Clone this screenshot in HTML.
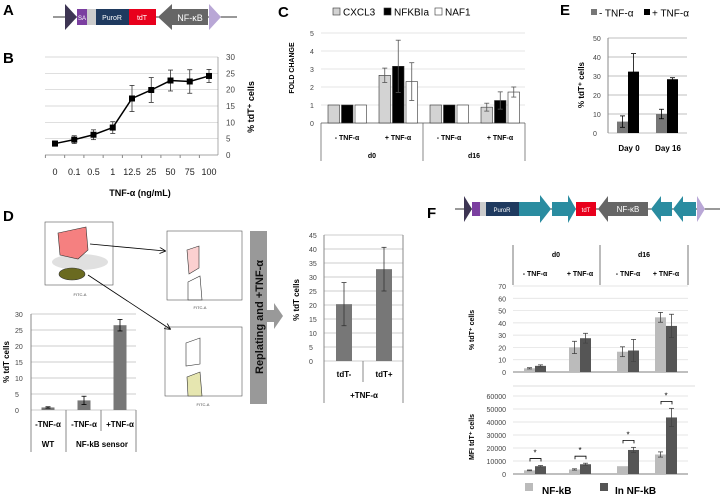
<!DOCTYPE html>
<html><head><meta charset="utf-8"><style>
html,body{margin:0;padding:0;background:#fff}
svg{display:block;font-family:"Liberation Sans",sans-serif}
</style></head><body>
<svg id="fig" width="722" height="500" viewBox="0 0 722 500">
<defs><marker id="ar" markerWidth="8" markerHeight="8" refX="7" refY="4" orient="auto"><path d="M0,0 L8,4 L0,8" fill="none" stroke="#000" stroke-width="1"/></marker></defs>
<g font-weight="bold" font-size="15">
<text x="3" y="15">A</text><text x="3" y="63">B</text><text x="278" y="17">C</text><text x="560" y="15">E</text><text x="3" y="221">D</text><text x="427" y="218">F</text>
</g>
<g font-size="7" fill="#fff">
<line x1="53" y1="17" x2="237" y2="17" stroke="#333"/>
<polygon points="65,4 77,17 65,30" fill="#3d3553"/>
<rect x="77" y="9" width="10" height="16" fill="#7b3fa0"/><text x="82" y="20" text-anchor="middle" font-size="6">SA</text>
<rect x="87" y="9" width="9" height="16" fill="#ccc"/>
<rect x="96" y="9" width="33" height="16" fill="#1f3a5f"/><text x="112" y="20" text-anchor="middle">PuroR</text>
<rect x="129" y="9" width="27" height="16" fill="#e8001c"/><text x="142" y="20" text-anchor="middle">tdT</text>
<polygon points="158,17 172,4 172,9 208,9 208,25 172,25 172,30" fill="#666"/><text x="190" y="21" text-anchor="middle" font-size="9">NF-κB</text>
<polygon points="209,4 221,17 209,30" fill="#b9a7d6"/>
</g>
<g id="pB"></g>
<g id="pC"></g>
<g id="pE"></g>
<g font-size="4" fill="#444">
<rect x="45" y="222" width="68" height="63" fill="#fff" stroke="#555" stroke-width="0.6"/>
<ellipse cx="80" cy="262" rx="28" ry="8" fill="#ccc" opacity="0.6"/>
<polygon points="58,233 86,227 88,250 78,259 60,255" fill="#f58080" stroke="#333" stroke-width="0.6"/>
<ellipse cx="72" cy="274" rx="13" ry="6" fill="#6a6a20" stroke="#333" stroke-width="0.6"/>
<text x="80" y="296" text-anchor="middle">FITC-A</text>
<rect x="167" y="231" width="75" height="69" fill="#fff" stroke="#555" stroke-width="0.6"/>
<polygon points="187,250 199,246 199,268 189,274" fill="#fbd0d0" stroke="#333" stroke-width="0.6"/>
<polygon points="188,282 200,276 202,300 188,300" fill="none" stroke="#333" stroke-width="0.6"/>
<text x="200" y="309" text-anchor="middle">FITC-A</text>
<rect x="165" y="327" width="77" height="69" fill="#fff" stroke="#555" stroke-width="0.6"/>
<polygon points="186,343 200,338 200,364 186,366" fill="none" stroke="#333" stroke-width="0.6"/>
<polygon points="187,377 200,372 202,396 188,396" fill="#e6e6b0" stroke="#333" stroke-width="0.6"/>
<text x="203" y="406" text-anchor="middle">FITC-A</text>
<line x1="90" y1="244" x2="165" y2="251" stroke="#000" stroke-width="0.8" marker-end="url(#ar)"/>
<line x1="88" y1="275" x2="170" y2="329" stroke="#000" stroke-width="0.8" marker-end="url(#ar)"/>
</g>
<g>
<rect x="250" y="231" width="17" height="173" fill="#999"/>
<polygon points="267,310 274,310 274,303 283,316 274,329 274,322 267,322" fill="#999"/>
<text transform="translate(263,317) rotate(-90)" text-anchor="middle" font-size="11" font-weight="bold" fill="#111">Replating and +TNF-α</text>
</g>
<g id="pD1"></g>
<g id="pD2"></g>
<g font-size="6" fill="#fff">
<line x1="455" y1="209" x2="720" y2="209" stroke="#333"/>
<polygon points="464,196 472,209 464,222" fill="#3d3553"/>
<rect x="472" y="202" width="8" height="14" fill="#7b3fa0"/>
<rect x="480" y="202" width="6" height="14" fill="#ccc"/>
<rect x="486" y="202" width="33" height="14" fill="#1f3a5f"/><text x="502" y="212" text-anchor="middle">PuroR</text>
<polygon points="519,202 540,202 540,195 551,209 540,223 540,216 519,216" fill="#2a8ca0"/>
<polygon points="552,202 568,202 568,195 576,209 568,223 568,216 552,216" fill="#2a8ca0"/>
<rect x="576" y="202" width="20" height="14" fill="#e8001c"/><text x="586" y="212" text-anchor="middle">tdT</text>
<polygon points="598,209 608,196 608,202 648,202 648,216 608,216 608,222" fill="#666"/><text x="628" y="212" text-anchor="middle" font-size="8">NF-κB</text>
<polygon points="651,209 661,196 661,202 672,202 672,216 661,216 661,222" fill="#2a8ca0"/>
<polygon points="673,209 683,196 683,202 696,202 696,216 683,216 683,222" fill="#2a8ca0"/>
<polygon points="697,196 705,209 697,222" fill="#b9a7d6"/>
</g>
<g id="pF"></g>
</svg>
<script>
const NS="http://www.w3.org/2000/svg";
function el(p,t,a,txt){const e=document.createElementNS(NS,t);for(const k in a)e.setAttribute(k,a[k]);if(txt!==undefined)e.textContent=txt;p.appendChild(e);return e;}
function lin(d0,d1,r0,r1){return v=>r0+(v-d0)/(d1-d0)*(r1-r0);}
function errbar(g,x,y0,y1,c){el(g,'line',{x1:x,x2:x,y1:y0,y2:y1,stroke:c,'stroke-width':0.8});el(g,'line',{x1:x-2.5,x2:x+2.5,y1:y0,y2:y0,stroke:c,'stroke-width':0.8});el(g,'line',{x1:x-2.5,x2:x+2.5,y1:y1,y2:y1,stroke:c,'stroke-width':0.8});}

const bCats=["0","0.1","0.5","1","12.5","25","50","75","100"];
const bVals=[3.5,4.7,6.2,8.4,17.3,19.9,22.8,22.5,24.2];
const bErr=[0.8,1.2,1.5,1.8,4.0,3.8,3.2,3.6,2.0];
const bTicks=[0,5,10,15,20,25,30];
const cGroups=["- TNF-α","+ TNF-α","- TNF-α","+ TNF-α"];
const cSeries=["CXCL3","NFKBIa","NAF1"];
const cCXCL3=[1,2.65,1,0.88];
const cNFKBIa=[1,3.15,1,1.25];
const cNAF1=[1,2.3,1,1.72];
const cErrCXCL3=[0,0.4,0,0.22];
const cErrNFKBIa=[0,1.45,0,0.48];
const cErrNAF1=[0,1.05,0,0.28];
const cTicks=[0,1,2,3,4,5];
const eCats=["Day 0","Day 16"];
const eMinus=[6,10];
const ePlus=[32.3,28.3];
const eErrMinus=[3,2.5];
const eErrPlus=[9.5,0.8];
const eTicks=[0,10,20,30,40,50];
const d1Cats=["-TNF-α","-TNF-α","+TNF-α"];
const d1Vals=[0.8,3,26.5];
const d1Err=[0.2,1.3,1.8];
const d1Ticks=[0,5,10,15,20,25,30];
const d2Cats=["tdT-","tdT+"];
const d2Vals=[20.3,32.8];
const d2Err=[7.7,7.8];
const d2Ticks=[0,5,10,15,20,25,30,35,40,45];
const fLightPct=[3,20,16.5,44.5];
const fDarkPct=[5,27.5,17.5,37.5];
const fErrLightPct=[0.5,5,4,4];
const fErrDarkPct=[0.8,4,9,9.5];
const fPctTicks=[0,10,20,30,40,50,60,70];
const fLightMFI=[2800,3500,6000,15000];
const fDarkMFI=[6000,7500,18500,43500];
const fErrLightMFI=[300,500,0,2000];
const fErrDarkMFI=[500,800,2000,7000];
const fMFITicks=[0,10000,20000,30000,40000,50000,60000];

(function(){const g=document.getElementById('pB');
const y=lin(0,30,155,57),x=i=>55+i*19.25;
bTicks.forEach(t=>{const l=el(g,'line',{x1:45,x2:218,y1:y(t),y2:y(t),stroke:t?'#ccc':'#888','stroke-width':0.7});
el(g,'text',{x:226,y:y(t)+3,'font-size':8,fill:'#444'},t);});
el(g,'line',{x1:218,x2:218,y1:57,y2:155,stroke:'#888','stroke-width':0.7});
bCats.forEach((c,i)=>{el(g,'text',{x:x(i),y:175,'font-size':9,'text-anchor':'middle',fill:'#222'},c);el(g,'line',{x1:x(i)-9.6,x2:x(i)-9.6,y1:155,y2:158,stroke:'#888'});});
el(g,'polyline',{points:bVals.map((v,i)=>x(i)+','+y(v)).join(' '),fill:'none',stroke:'#000','stroke-width':1.5});
bVals.forEach((v,i)=>{errbar(g,x(i),y(v+bErr[i]),y(v-bErr[i]),'#333');const r=el(g,'rect',{x:x(i)-3,y:y(v)-3,width:6,height:6,fill:'#000'});});
el(g,'text',{x:140,y:196,'font-size':9,'font-weight':'bold','text-anchor':'middle'},"TNF-α (ng/mL)");
el(g,'text',{transform:'translate(254,107) rotate(-90)','font-size':9,'font-weight':'bold','text-anchor':'middle'},"% tdT⁺ cells");})();

(function(){const g=document.getElementById('pC');
const y=lin(0,5,123,33),cx=[347,398,449,500];
const fills=["#d3d3d3","#000","#fff"],vals=[cCXCL3,cNFKBIa,cNAF1],errs=[cErrCXCL3,cErrNFKBIa,cErrNAF1];
cTicks.forEach(t=>{el(g,'line',{x1:321,x2:525,y1:y(t),y2:y(t),stroke:t?'#ddd':'#555','stroke-width':0.7});el(g,'text',{x:310,y:y(t)+3,'font-size':7,fill:'#444'},t);});
cSeries.forEach((s,k)=>{cx.forEach((c,i)=>{const v=vals[k][i],bx=c-19+k*13.5;
const r=el(g,'rect',{x:bx,y:y(v),width:11.5,height:y(0)-y(v),fill:fills[k],stroke:'#333','stroke-width':0.6});
if(errs[k][i])errbar(g,bx+5.75,y(v+errs[k][i]),y(v-errs[k][i]),'#555');});
el(g,'rect',{x:333+k*51,y:8,width:7,height:7,fill:fills[k],stroke:'#333','stroke-width':0.6});
el(g,'text',{x:343+k*51,y:15.5,'font-size':10},s);});
cGroups.forEach((c,i)=>el(g,'text',{x:cx[i],y:140,'font-size':7,'font-weight':'bold','text-anchor':'middle'},c));
[321,423,525].forEach(x=>el(g,'line',{x1:x,x2:x,y1:123,y2:161,stroke:'#555','stroke-width':0.7}));
el(g,'text',{x:372,y:158,'font-size':7,'font-weight':'bold','text-anchor':'middle'},"d0");
el(g,'text',{x:474,y:158,'font-size':7,'font-weight':'bold','text-anchor':'middle'},"d16");
el(g,'text',{transform:'translate(294,68) rotate(-90)','font-size':7,'font-weight':'bold','text-anchor':'middle'},"FOLD CHANGE");})();

(function(){const g=document.getElementById('pE');
const y=lin(0,50,133,38),cx=[628,667];
eTicks.forEach(t=>{el(g,'line',{x1:608,x2:687,y1:y(t),y2:y(t),stroke:'#aaa','stroke-width':0.7});el(g,'text',{x:593,y:y(t)+3,'font-size':7,fill:'#444'},t);});
el(g,'line',{x1:608,x2:608,y1:38,y2:133,stroke:'#888'});
cx.forEach((c,i)=>{const a=el(g,'rect',{x:c-11,y:y(eMinus[i]),width:11,height:y(0)-y(eMinus[i]),fill:'#777'});
const b=el(g,'rect',{x:c,y:y(ePlus[i]),width:11,height:y(0)-y(ePlus[i]),fill:'#000'});
errbar(g,c-5.5,y(eMinus[i]+eErrMinus[i]),y(eMinus[i]-eErrMinus[i]),'#000');errbar(g,c+5.5,y(ePlus[i]+eErrPlus[i]),y(ePlus[i]-eErrPlus[i]),'#000');
el(g,'text',{x:c+1,y:151,'font-size':8,'font-weight':'bold','text-anchor':'middle'},eCats[i]);});
el(g,'rect',{x:591,y:9,width:6,height:6,fill:'#777'});el(g,'text',{x:599,y:16.5,'font-size':10},"- TNF-α");
el(g,'rect',{x:644,y:9,width:6,height:6,fill:'#000'});el(g,'text',{x:652,y:16.5,'font-size':10},"+ TNF-α");
el(g,'text',{transform:'translate(584,85) rotate(-90)','font-size':8,'font-weight':'bold','text-anchor':'middle'},"% tdT⁺ cells");})();

(function(){const g=document.getElementById('pD1');
const y=lin(0,30,410,314),cx=[48,84,120];
d1Ticks.forEach(t=>{el(g,'line',{x1:31,x2:136,y1:y(t),y2:y(t),stroke:'#bbb','stroke-width':0.7});el(g,'text',{x:15,y:y(t)+3,'font-size':7,fill:'#444'},t);});
el(g,'line',{x1:31,x2:31,y1:314,y2:452,stroke:'#888'});
d1Vals.forEach((v,i)=>{const r=el(g,'rect',{x:cx[i]-6.5,y:y(v),width:13,height:y(0)-y(v),fill:'#777'});
errbar(g,cx[i],y(v+d1Err[i]),y(v-d1Err[i]),'#000');
el(g,'text',{x:cx[i],y:427,'font-size':8,'font-weight':'bold','text-anchor':'middle'},d1Cats[i]);});
[66,101].forEach(x=>el(g,'line',{x1:x,x2:x,y1:410,y2:431,stroke:'#888'}));
el(g,'line',{x1:136,x2:136,y1:410,y2:452,stroke:'#888'});
el(g,'line',{x1:66,x2:66,y1:431,y2:452,stroke:'#888'});
el(g,'text',{x:48,y:447,'font-size':8,'font-weight':'bold','text-anchor':'middle'},"WT");
el(g,'text',{x:102,y:447,'font-size':8,'font-weight':'bold','text-anchor':'middle'},"NF-kB sensor");
el(g,'text',{transform:'translate(9,362) rotate(-90)','font-size':8,'font-weight':'bold','text-anchor':'middle'},"% tdT cells");})();

(function(){const g=document.getElementById('pD2');
const y=lin(0,45,361,235),cx=[344,384];
d2Ticks.forEach(t=>{el(g,'line',{x1:324,x2:403,y1:y(t),y2:y(t),stroke:'#bbb','stroke-width':0.7});el(g,'text',{x:309,y:y(t)+3,'font-size':7,fill:'#444'},t);});
[324,363,403].forEach(x=>el(g,'line',{x1:x,x2:x,y1:x==363?361:235,y2:x==363?382:403,stroke:'#888'}));
d2Vals.forEach((v,i)=>{const r=el(g,'rect',{x:cx[i]-8,y:y(v),width:16,height:y(0)-y(v),fill:'#777'});
errbar(g,cx[i],y(v+d2Err[i]),y(v-d2Err[i]),'#333');
el(g,'text',{x:cx[i],y:377,'font-size':8,'font-weight':'bold','text-anchor':'middle'},d2Cats[i]);});
el(g,'text',{x:364,y:398,'font-size':8,'font-weight':'bold','text-anchor':'middle'},"+TNF-α");
el(g,'text',{transform:'translate(299,300) rotate(-90)','font-size':8,'font-weight':'bold','text-anchor':'middle'},"% tdT cells");})();

(function(){const g=document.getElementById('pF');
const cx=[535,580,628,666];
[513,600,688].forEach(x=>el(g,'line',{x1:x,x2:x,y1:245,y2:285,stroke:'#777'}));
el(g,'text',{x:556,y:257,'font-size':7,'font-weight':'bold','text-anchor':'middle'},"d0");
el(g,'text',{x:644,y:257,'font-size':7,'font-weight':'bold','text-anchor':'middle'},"d16");
cx.forEach((c,i)=>el(g,'text',{x:c,y:276,'font-size':7,'font-weight':'bold','text-anchor':'middle'},i%2?"+ TNF-α":"- TNF-α"));
function chart(y0,y1,max,ticks,L,D,EL,ED,lab,ly,stars){const y=lin(0,max,y1,y0);
ticks.forEach(t=>{el(g,'line',{x1:513,x2:688,y1:y(t),y2:y(t),stroke:t?'#ddd':'#555','stroke-width':0.7});el(g,'text',{x:506,y:y(t)+3,'font-size':7,fill:'#444','text-anchor':'end'},t);});
cx.forEach((c,i)=>{const a=el(g,'rect',{x:c-11,y:y(L[i]),width:11,height:y(0)-y(L[i]),fill:'#bbb'});
const b=el(g,'rect',{x:c,y:y(D[i]),width:11,height:y(0)-y(D[i]),fill:'#555'});
if(EL[i])errbar(g,c-5.5,y(L[i]+EL[i]),y(L[i]-EL[i]),'#444');if(ED[i])errbar(g,c+5.5,y(D[i]+ED[i]),y(D[i]-ED[i]),'#444');
if(stars){const top=y(D[i]+ED[i])-7;el(g,'path',{d:`M${c-5},${top+3}V${top}H${c+6}V${top+3}`,fill:'none',stroke:'#000','stroke-width':0.8});el(g,'text',{x:c,y:top-3,'font-size':8,'text-anchor':'middle'},"*");}});
el(g,'text',{transform:`translate(474,${ly}) rotate(-90)`,'font-size':7,'font-weight':'bold','text-anchor':'middle'},lab);}
chart(286,372,70,fPctTicks,fLightPct,fDarkPct,fErrLightPct,fErrDarkPct,"% tdT⁺ cells",330,false);
el(g,'line',{x1:513,x2:695,y1:386,y2:386,stroke:'#ddd'});
chart(396,474,60000,fMFITicks,fLightMFI,fDarkMFI,fErrLightMFI,fErrDarkMFI,"MFI tdT⁺ cells",437,true);
el(g,'rect',{x:525,y:483,width:8,height:8,fill:'#bbb'});el(g,'text',{x:542,y:494,'font-size':10,'font-weight':'bold'},"NF-kB");
el(g,'rect',{x:600,y:483,width:8,height:8,fill:'#555'});el(g,'text',{x:615,y:494,'font-size':10,'font-weight':'bold'},"In NF-kB");})();
</script>
</body></html>
